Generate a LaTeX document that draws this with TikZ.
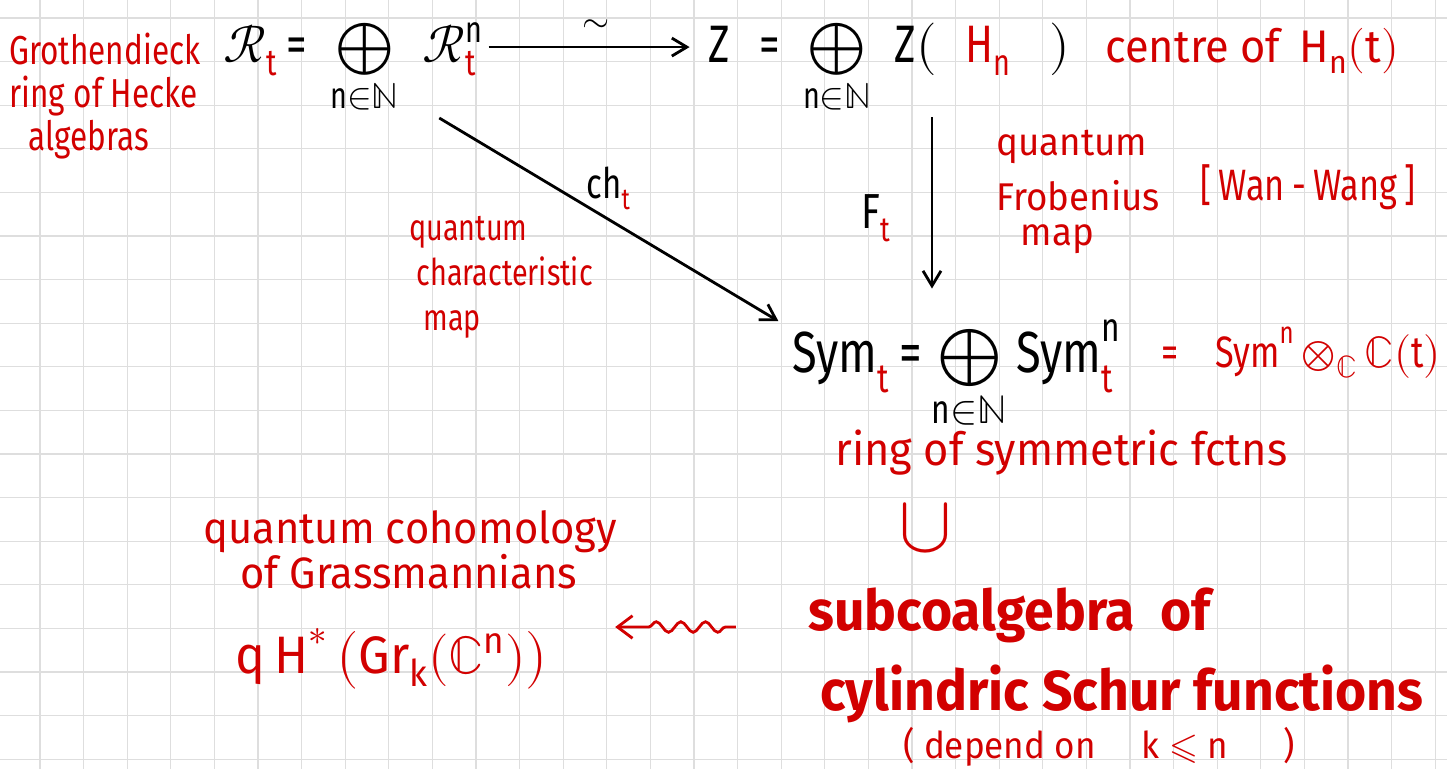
\documentclass[tikz,border=0pt]{standalone}
\usepackage{amsmath}
\usepackage{fontspec}
\usepackage{unicode-math}
\setmainfont{Fira Sans}
\newfontfamily\handfont[FakeStretch=0.78]{Fira Sans}
\newfontfamily\widehand[FakeStretch=0.95]{Fira Sans}
\usetikzlibrary{arrows.meta,positioning,decorations.pathmorphing}
\definecolor{inkred}{RGB}{210,0,0}
\definecolor{paperline}{RGB}{222,222,222}
\newcommand{\redt}{\textcolor{inkred}{\text{t}}}
\tikzset{
  paper/.style={draw=paperline, line width=0.75pt},
  note/.style={text=inkred, font=\handfont\fontsize{23}{24.5}\selectfont, align=left, inner sep=0pt},
  small note/.style={note, font=\handfont\fontsize{21}{25.5}\selectfont},
  wide note/.style={note, font=\widehand\fontsize{26}{28}\selectfont},
  big note/.style={note, font=\widehand\bfseries\fontsize{32}{35}\selectfont},
  formula/.style={text=black, font=\handfont\fontsize{30}{32}\selectfont, inner sep=0pt},
  mapto/.style={-{Straight Barb[length=3mm, width=3.6mm]}, line width=1.6pt, draw=black},
  squig/.style={-{Straight Barb[length=3mm, width=4.5mm]}, line width=1.6pt, draw=inkred,
    decorate, decoration={snake, amplitude=3pt, segment length=14pt, pre length=6pt, post length=18pt}}
}

\begin{document}
\begin{tikzpicture}[x=0.02cm, y=-0.02cm]
  \useasboundingbox (0,0) rectangle (1447,769);
  \fill[white] (0,0) rectangle (1447,769);
  % squared paper
  \foreach \k in {0,...,32} \draw[paper] ({40+43.6*\k},0) -- ({40+43.6*\k},769);
  \foreach \k in {0,...,17} \draw[paper] (0,{18+43.6*\k}) -- (1447,{18+43.6*\k});

  % black diagram
  \node[formula, anchor=base west] (Rt) at (223,62)
    {$\mathcal{R}_{\redt}\,\text{=}\;\bigoplus\limits_{\text{n}\in\mathbb{N}}\;\mathcal{R}^{\text{n}}_{\redt}$};
  \node[formula, anchor=base west] (Z) at (708,62)
    {$\text{Z}\;\;\text{=}\;\bigoplus\limits_{\text{n}\in\mathbb{N}}\;\text{Z}(\;\;\textcolor{inkred}{\text{H}_{\text{n}}}\;\;\,)$};
  \node[formula, anchor=base west, font=\handfont\fontsize{33}{35}\selectfont] (Sym) at (792,372)
    {$\text{Sym}_{\redt}\,\text{=}\bigoplus\limits_{\text{n}\in\mathbb{N}}\text{Sym}^{\text{n}}_{\redt}$};
  \coordinate (fline) at (932,0);

  \draw[mapto, shorten <=3pt, shorten >=10.5pt] ([yshift=8.5pt]Rt.base east) -- ([yshift=8.5pt]Z.base west)
    node[midway, yshift=12pt, font=\fontsize{20}{22}\selectfont] {$\sim$};
  \draw[mapto, shorten >=9pt] ([shift={(-44,56)}]Rt.base east) -- ([shift={(0,10)}]Sym.north west)
    node[midway, anchor=south, xshift=-4pt, yshift=4pt, font=\handfont\fontsize{24}{26}\selectfont] {$\text{ch}_{\redt}$};
  \draw[mapto, shorten <=0pt, shorten >=17.5pt] (Z.south -| fline) -- (Sym.north -| fline)
    node[midway, left=19pt, font=\handfont\fontsize{28}{30}\selectfont] {$\text{F}_{\redt}$};

  % red notes
  \node[note, anchor=north west] (groth) at (9,33) {Grothendieck\\ring of Hecke\\\hspace{11pt}algebras};
  \node[wide note, anchor=base west] (centre) at (1105,62) {centre of \,$\text{H}_{\text{n}}(\text{t})$};
  \node[small note, anchor=north west] (chnote) at (409,216) {quantum\\\hspace{4pt}characteristic\\\hspace{8pt}map};
  \node[note, anchor=north west, font=\widehand\fontsize{22}{25}\selectfont] (frobnote) at (996,130)
    {quantum\\[6pt]Frobenius\\[-5pt]\hspace{14pt}map};
  \node[note, anchor=base west, font=\handfont\fontsize{25}{27}\selectfont] (wang) at (1200,200) {[\,Wan\,-\,Wang\,]};
  \node[note, anchor=base west, font=\handfont\fontsize{25}{27}\selectfont] (symdef) at (1161,367)
    {$\text{=}\;\;\;\text{Sym}^{\text{n}}\,{\otimes}_{\mathbb{C}}\,\mathbb{C}(\text{t})$};
  \node[wide note, anchor=base west] (symring) at (835,465) {ring of symmetric fctns};
  \node[note, font=\fontsize{46}{48}\selectfont] (incl) at (925,528) {$\cup$};
  \node[big note, anchor=base west] (sub1) at (808,630) {subcoalgebra \ of};
  \node[big note, anchor=base west] (sub2) at (820,710) {cylindric Schur functions};
  \node[note, anchor=base west, font=\widehand\fontsize{21}{23}\selectfont] (depend) at (903,758)
    {( depend on \quad k $\leqslant$ n \quad\ )};
  \node[wide note, anchor=base west, font=\widehand\fontsize{25}{27}\selectfont] (qcoh1) at (203,543) {quantum cohomology};
  \node[wide note, anchor=base west, font=\widehand\fontsize{25}{27}\selectfont] (qcoh2) at (240,588) {of Grassmannians};
  \node[note, anchor=base west, font=\widehand\fontsize{30}{32}\selectfont] (qH) at (235,673)
    {$\text{q}\,\text{H}^{*}\,\bigl(\text{Gr}_{\text{k}}(\mathbb{C}^{\text{n}})\bigr)$};

  \coordinate (sqy) at (0,627);
  \draw[squig] ([xshift=-41pt]sub1.west |- sqy) -- ([xshift=38pt]qH.east |- sqy);
\end{tikzpicture}
\end{document}
